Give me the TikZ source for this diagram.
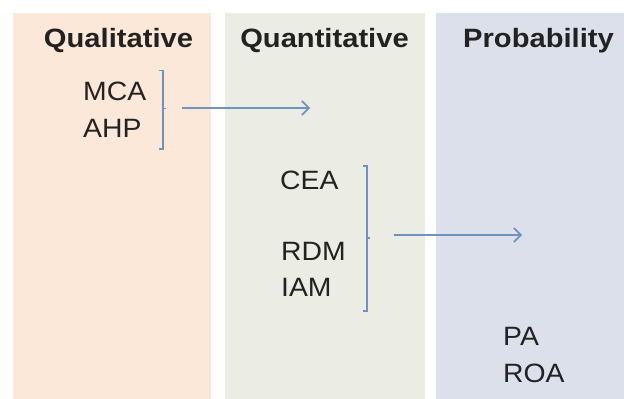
\documentclass[tikz,border=0pt]{standalone}
\usepackage{fontspec}
\setmainfont{Liberation Sans}
\newfontfamily\hdrfont[FakeStretch=1.1]{Liberation Sans Bold}
\newfontfamily\bodyfont[FakeStretch=1.07]{Liberation Sans}
\usetikzlibrary{arrows.meta}
\definecolor{pqual}{HTML}{FBE8D8}
\definecolor{pquan}{HTML}{EBECE3}
\definecolor{pprob}{HTML}{DCE0EB}
\definecolor{lnblue}{HTML}{7192C0}
\definecolor{txt}{HTML}{222222}
\tikzset{
  panel/.style={draw=none},
  hdr/.style={inner sep=0pt, anchor=base, text=txt, font=\hdrfont\fontsize{26.5}{30}\selectfont},
  item/.style={inner sep=0pt, anchor=base west, text=txt, font=\bodyfont\fontsize{26.5}{31}\selectfont},
  brk/.style={draw=lnblue, line width=1.5pt},
  flow/.style={draw=lnblue, line width=1.6pt, -{Straight Barb[length=7pt,width=14pt,line width=1.6pt]}}
}
\begin{document}
\begin{tikzpicture}[x=1pt,y=-1pt]
\useasboundingbox (0,0) rectangle (624,399);
\fill[white] (0,0) rectangle (624,399);
\fill[pqual] (12.7,12.7) rectangle (211,399);
\fill[pquan] (225,12.7) rectangle (425,399);
\fill[pprob] (436,12.7) rectangle (624,399);

\node[hdr] (hqual) at (118.5,47.5) {Qualitative};
\node[hdr] (hquan) at (324.5,47.5) {Quantitative};
\node[hdr] (hprob) at (538.5,47.5) {Probability};

\node[item] (mca) at (83,100.7) {MCA};
\node[item] (ahp) at (83,137) {AHP};
\node[item] (cea) at (280,189) {CEA};
\node[item] (rdm) at (281,260) {RDM};
\node[item] (iam) at (281,296) {IAM};
\node[item] (pa) at (503,345) {PA};
\node[item] (roa) at (503,382) {ROA};

% bracket 1
\coordinate (b1t) at (163,70.5);
\coordinate (b1b) at (163,149);
\coordinate (b1m) at (163,108.5);
\draw[brk] ([xshift=-4pt]b1t) -- (b1t) -- (b1b) -- ([xshift=-4pt]b1b);
\draw[brk] (b1m) -- ([xshift=3pt]b1m);
\coordinate (a1s) at (182,108);
\coordinate (a1e) at (310,108);
\draw[flow] (a1s) -- (a1e);

% bracket 2
\coordinate (b2t) at (367,166);
\coordinate (b2b) at (367,311);
\coordinate (b2m) at (367,238);
\draw[brk] ([xshift=-4pt]b2t) -- (b2t) -- (b2b) -- ([xshift=-4pt]b2b);
\draw[brk] (b2m) -- ([xshift=3pt]b2m);
\coordinate (a2s) at (394,235);
\coordinate (a2e) at (522,235);
\draw[flow] (a2s) -- (a2e);
\end{tikzpicture}
\end{document}
